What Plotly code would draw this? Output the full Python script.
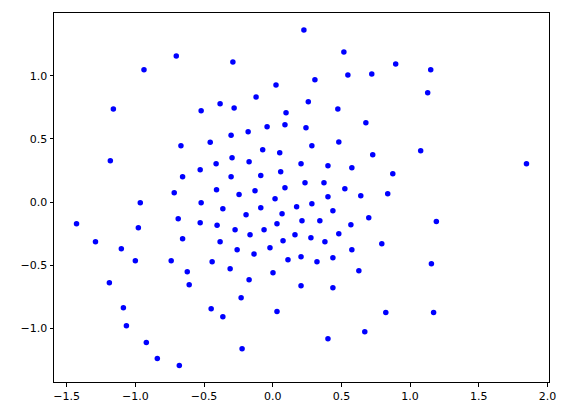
import plotly.graph_objects as go

x_vals = [-0.702, -0.937, -1.160, 0.227, -0.290, 0.024, -0.121, 0.259, -0.383, -0.521,
          -0.281, 0.097, -0.041, 0.089, -0.179, 0.242, -0.303, 0.518, 0.895, 1.150,
          0.307, 0.547, 0.721, 1.128, 0.474, 0.678, -0.668, -1.182, -0.656, -0.717,
          -0.964, -1.428, -0.688, -0.978, -1.290, -0.656, -1.102, -0.455, -0.073, 0.051,
          -0.296, -0.412, -0.172, 0.206, -0.528, -0.303, -0.087, 0.058, 0.235, -0.409,
          -0.245, -0.129, 0.089, 0.017, -0.521, -0.363, -0.087, 0.174, -0.194, 0.068,
          -0.528, -0.405, -0.274, -0.063, 0.031, 0.213, -0.383, -0.165, 0.075, 0.162,
          -0.259, -0.136, -0.020, 0.285, 0.481, 0.728, 1.077, 0.402, 0.576, 0.874,
          0.373, 0.525, 0.641, 0.837, 0.402, 0.285, 0.438, 0.699, 0.343, 0.569,
          0.278, 0.380, 0.481, 0.576, 0.794, 1.191, 1.847, -1.000, -0.739, -1.189,
          -1.087, -1.065, -0.920, -0.840, -0.680, -0.441, -0.622, -0.310, 0.002, 0.111,
          0.206, -0.172, -0.608, 0.206, -0.230, -0.448, -0.363, 0.031, -0.223, 0.322,
          0.438, 0.627, 1.155, 0.438, 0.823, 1.171, 0.670, 0.402]

y_vals = [1.157, 1.047, 0.738, 1.363, 1.110, 0.928, 0.833, 0.794, 0.778, 0.723,
          0.746, 0.707, 0.596, 0.612, 0.557, 0.588, 0.530, 1.189, 1.094, 1.047,
          0.968, 1.007, 1.015, 0.865, 0.738, 0.628, 0.446, 0.327, 0.201, 0.074,
          -0.005, -0.171, -0.131, -0.202, -0.313, -0.289, -0.368, 0.474, 0.414, 0.391,
          0.351, 0.304, 0.319, 0.304, 0.256, 0.201, 0.211, 0.240, 0.153, 0.098,
          0.061, 0.090, 0.114, 0.027, -0.005, -0.052, -0.044, -0.036, -0.100, -0.092,
          -0.163, -0.182, -0.218, -0.218, -0.171, -0.147, -0.313, -0.258, -0.305, -0.258,
          -0.376, -0.411, -0.360, 0.446, 0.477, 0.375, 0.406, 0.288, 0.272, 0.225,
          0.153, 0.106, 0.051, 0.066, 0.043, -0.013, -0.068, -0.123, -0.147, -0.179,
          -0.281, -0.313, -0.250, -0.376, -0.329, -0.153, 0.304, -0.463, -0.463, -0.637,
          -0.835, -0.977, -1.111, -1.238, -1.293, -0.471, -0.550, -0.526, -0.558, -0.455,
          -0.432, -0.613, -0.653, -0.661, -0.756, -0.843, -0.906, -0.866, -1.159, -0.471,
          -0.440, -0.542, -0.487, -0.677, -0.874, -0.874, -1.025, -1.080]

x_ticks = [-1.5, -1.0, -0.5, 0.0, 0.5, 1.0, 1.5, 2.0]
y_ticks = [-1.0, -0.5, 0.0, 0.5, 1.0]

fig = go.Figure()
fig.add_trace(go.Scatter(
    x=x_vals, y=y_vals, mode="markers",
    marker=dict(color="#0000ff", size=5.5, line=dict(width=0)),
    showlegend=False,
))

axis_common = dict(
    showgrid=False, zeroline=False, showline=True, linecolor="black", linewidth=1,
    mirror=True, ticks="outside", ticklen=3.5, tickwidth=0.8, tickcolor="black",
    tickfont=dict(family="DejaVu Sans", size=11, color="black"), tickformat=".1f",
)

fig.update_layout(
    width=568, height=416,
    margin=dict(l=54, r=18.5, t=12.5, b=34),
    paper_bgcolor="white", plot_bgcolor="white",
    xaxis=dict(range=[-1.592, 2.011], tickvals=x_ticks, **axis_common),
    yaxis=dict(range=[-1.423, 1.497], tickvals=y_ticks, **axis_common),
)

fig.write_html(
    "out.html",
    config={"displayModeBar": False},
    post_script="document.body.style.margin='0';document.body.style.overflow='hidden';",
)
